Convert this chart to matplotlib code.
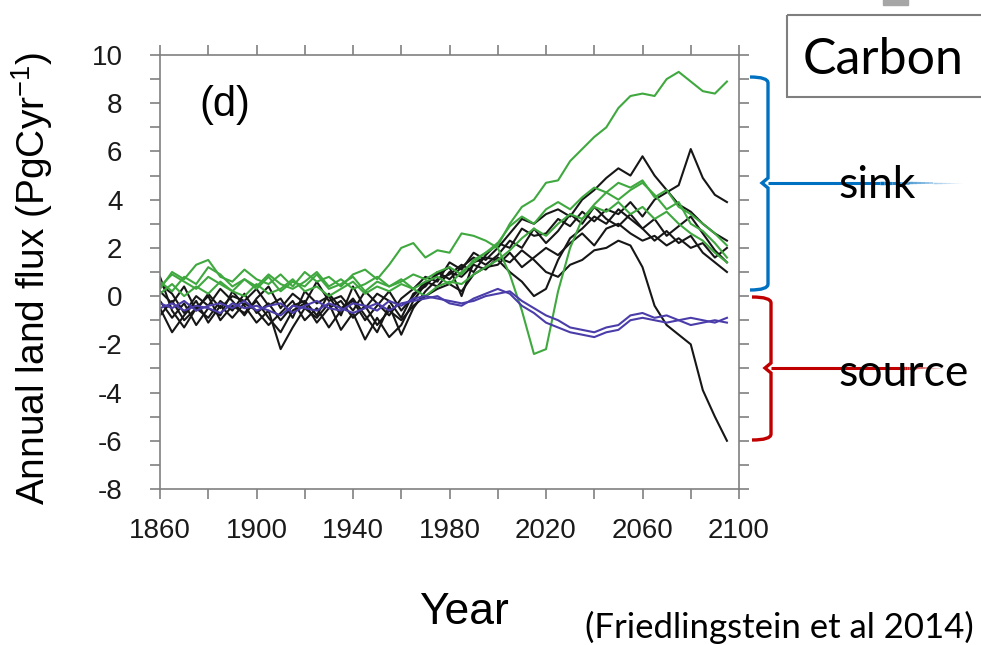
import matplotlib.pyplot as plt
import numpy as np
from matplotlib.ticker import MultipleLocator
from matplotlib.path import Path
from matplotlib.patches import PathPatch, Rectangle

# years, every 5 years 1860-2095
years = np.arange(1860, 2100, 5)

# black models (PgC/yr)
black_1 = [0.8, -0.6, -1.3, -0.5, -0.9, -0.2, -0.6, 0.1, -0.7, -0.3, -1.0, -0.4, -0.2, -0.8, 0.1, -0.5,
           -0.2, -1.0, -0.4, 0.2, -0.6, 0.0, 0.6, 0.4, 1.0, 0.8, 1.3, 1.1, 1.6, 1.4, 1.9, 1.5,
           1.0, 0.8, 1.3, 1.5, 1.9, 2.0, 2.3, 2.1, 1.2, -0.4, -1.2, -1.6, -2.0, -3.9, -5.0, -6.0]
black_2 = [-0.2, -0.9, -0.3, -1.2, -0.5, -0.8, 0.2, -0.4, -1.1, -0.6, -2.2, -1.3, -0.5, -0.9, -0.3, -1.4,
           -0.7, -1.8, -0.9, -1.7, -1.2, -0.2, 0.5, 0.9, 1.2, 0.0, 1.4, 1.6, 1.5, 1.0, 0.6, 0.0,
           0.3, 1.5, 2.4, 2.8, 3.3, 3.0, 3.6, 3.2, 2.8, 2.3, 2.7, 2.2, 2.5, 1.8, 1.4, 1.0]
black_3 = [0.5, 0.1, -0.7, 0.0, -0.4, 0.3, -0.2, -0.8, -0.1, 0.4, -0.5, 0.1, -0.3, 0.6, -0.2, 0.0,
           -0.6, 0.2, -0.3, -0.8, -0.1, 0.3, 0.8, 0.6, 1.4, 1.1, 1.8, 1.5, 2.0, 2.6, 3.2, 3.0,
           3.4, 3.6, 3.3, 4.0, 4.4, 4.9, 5.3, 5.0, 5.8, 5.0, 4.4, 3.8, 3.5, 3.0, 2.6, 2.3]
black_4 = [-0.5, -1.5, -0.8, -0.2, -1.1, -0.4, -0.9, -0.3, -0.6, -1.2, -0.7, -0.2, -1.0, -0.5, -1.3, -0.6,
           -0.1, -0.8, -1.5, -0.4, -1.6, -0.5, 0.2, 0.7, 0.9, 1.3, 1.0, 1.7, 2.2, 2.0, 2.8, 2.5,
           2.6, 3.2, 2.9, 3.5, 3.1, 3.6, 3.4, 3.9, 3.3, 4.0, 4.3, 4.6, 6.1, 4.9, 4.2, 3.9]
black_5 = [0.2, -0.3, 0.4, -0.6, 0.1, -0.5, 0.0, -0.2, 0.3, -0.4, -0.1, -0.9, 0.2, -0.3, 0.0, -0.8,
           0.4, -0.5, 0.1, -0.2, -0.9, 0.1, 0.4, 1.0, 0.7, 1.2, 1.6, 1.3, 1.7, 2.3, 2.0, 2.8,
           2.2, 2.7, 3.4, 3.0, 3.7, 3.2, 2.9, 3.4, 2.8, 3.2, 2.5, 2.9, 3.3, 2.6, 1.9, 1.4]
black_6 = [-0.8, -0.2, -1.0, -0.5, 0.0, -1.0, -0.4, -0.7, -0.2, -0.9, -1.5, -0.6, -0.3, -1.1, -0.5, -0.2,
           -0.9, -0.4, -1.2, -0.6, -1.0, -0.4, 0.0, 0.3, 0.5, 0.2, 0.9, 1.2, 1.3, 1.8, 1.2, 1.6,
           2.0, 1.7, 2.2, 2.6, 2.1, 2.8, 3.0, 2.6, 2.3, 2.5, 2.1, 2.4, 2.0, 2.2, 1.6, 2.0]

# green models
green_1 = [0.4, 0.9, 0.6, 0.3, 0.8, 0.5, 0.2, 0.7, 0.4, 0.9, 0.5, 0.3, 0.6, 1.0, 0.4, 0.7,
           0.3, 0.5, 0.8, 0.4, 0.6, 0.9, 0.7, 1.0, 1.2, 0.9, 1.5, 1.8, 2.1, 3.0, 3.7, 4.0,
           4.7, 4.8, 5.6, 6.1, 6.6, 7.0, 7.8, 8.3, 8.4, 8.3, 9.0, 9.3, 8.9, 8.5, 8.4, 8.9]
green_2 = [0.3, 1.0, 0.7, 1.3, 1.5, 0.8, 0.6, 1.1, 0.7, 0.5, 0.9, 0.4, 1.0, 0.6, 0.8, 0.4,
           0.9, 1.1, 0.7, 1.3, 2.0, 2.2, 1.6, 1.9, 1.8, 2.6, 2.5, 2.3, 2.0, 0.9, -0.6, -2.4,
           -2.2, 0.2, 2.0, 3.2, 3.8, 4.3, 4.0, 4.4, 4.7, 4.2, 3.6, 3.9, 3.0, 2.7, 2.2, 1.6]
green_3 = [0.6, 0.2, 0.8, 0.5, 1.2, 0.9, 0.4, 0.7, 0.3, 0.8, 0.2, 0.6, 0.4, 0.9, 0.3, 0.5,
           0.8, 0.2, 0.6, 0.4, 0.7, 0.3, 0.6, 0.8, 0.5, 1.0, 1.4, 1.8, 2.2, 2.9, 3.3, 3.0,
           3.6, 3.9, 3.6, 4.1, 4.5, 4.3, 4.7, 4.5, 4.8, 4.1, 4.4, 3.7, 3.4, 3.0, 2.6, 2.1]
green_4 = [0.1, 0.5, 0.0, 0.4, 0.1, 0.6, 0.2, 0.0, 0.5, 0.1, 0.3, 0.7, 0.2, 0.4, 0.0, 0.3,
           0.6, 0.1, 0.4, 0.2, 0.5, 0.3, 0.0, 0.4, 0.6, 0.5, 0.9, 1.2, 1.5, 1.9, 2.4, 2.8,
           2.5, 3.0, 3.4, 3.2, 3.7, 3.5, 3.9, 3.4, 3.7, 3.2, 3.5, 3.0, 2.6, 2.3, 1.8, 1.4]

# purple models
purple_1 = [-0.3, -0.5, -0.2, -0.6, -0.4, -0.3, -0.5, -0.2, -0.6, -0.4, -0.3, -0.7, -0.4, -0.2, -0.5, -0.6,
            -0.3, -0.4, -0.6, -0.2, -0.4, -0.1, 0.0, -0.1, -0.2, -0.3, -0.2, 0.0, 0.1, 0.2, -0.2, -0.5,
            -0.8, -1.0, -1.3, -1.4, -1.5, -1.3, -1.2, -0.8, -0.7, -0.9, -0.8, -1.0, -0.9, -1.0, -1.1, -0.9]
purple_2 = [-0.5, -0.3, -0.6, -0.4, -0.5, -0.7, -0.3, -0.5, -0.4, -0.6, -0.8, -0.4, -0.5, -0.6, -0.3, -0.5,
            -0.7, -0.5, -0.3, -0.6, -0.3, -0.2, -0.1, 0.0, -0.3, -0.4, -0.1, 0.1, 0.3, 0.1, -0.4, -0.7,
            -1.1, -1.3, -1.5, -1.6, -1.7, -1.5, -1.4, -1.0, -0.9, -1.0, -1.1, -1.0, -1.2, -1.1, -1.0, -1.1]

plt.rcParams['font.family'] = ['Liberation Sans', 'DejaVu Sans']
plt.rcParams['mathtext.default'] = 'regular'
plt.rcParams['axes.unicode_minus'] = False

W, H = 981, 645
fig = plt.figure(figsize=(W / 100, H / 100), dpi=100)
ax = fig.add_axes([160 / W, 1 - 489 / H, (739 - 160) / W, (489 - 55) / H])

for s in [black_1, black_2, black_3, black_4, black_5, black_6]:
    ax.plot(years, s, color='#161616', lw=1.5)
for s in [green_1, green_2, green_3, green_4]:
    ax.plot(years, s, color='#3fa83f', lw=1.5)
for s in [purple_1, purple_2]:
    ax.plot(years, s, color='#4a3daa', lw=1.5)

ax.set_xlim(1860, 2100)
ax.set_ylim(-8, 10)
ax.set_xticks(range(1860, 2101, 40))
ax.xaxis.set_minor_locator(MultipleLocator(20))
ax.set_yticks(range(-8, 11, 2))
ax.yaxis.set_minor_locator(MultipleLocator(1))
ax.tick_params(which='both', direction='out', top=True, right=True,
               color='#808080', length=7, width=1.2)
ax.tick_params(axis='x', labelsize=20, pad=14, labelcolor='#1a1a1a')
ax.tick_params(axis='y', labelsize=20, pad=20, labelcolor='#1a1a1a')
for sp in ax.spines.values():
    sp.set_color('#808080')
    sp.set_linewidth(1.2)

# overlay in pixel coordinates for labels and annotations
ov = fig.add_axes([0, 0, 1, 1], zorder=5)
ov.set_xlim(0, W)
ov.set_ylim(H, 0)
ov.axis('off')
ov.patch.set_alpha(0)

ov.text(225, 105, '(d)', fontsize=30, ha='center', va='center')
ov.text(32, 278, 'Annual land flux (PgCyr$^{-1}$)', rotation=90, fontsize=28,
        ha='center', va='center')
ov.text(464, 613, 'Year', fontsize=32, ha='center', va='center')

# "Carbon" box
ov.add_patch(Rectangle((787, 15), 230, 82, fill=False, edgecolor='#7f7f7f', lw=1.5, clip_on=False))
ov.add_patch(Rectangle((883, -2), 25, 7, color='#a6a6a6', clip_on=False))
ov.text(883, 60, 'Carbon', fontsize=36, family='Lato', ha='center', va='center')


def brace(x_tip, x_spine, y0, y1, ym, color):
    verts = [(x_tip, y0), (x_spine, y0), (x_spine, y0 + 6), (x_spine, ym - 5),
             (x_spine - 6, ym), (x_spine, ym + 5), (x_spine, y1 - 6), (x_spine, y1), (x_tip, y1)]
    codes = [Path.MOVETO, Path.CURVE3, Path.CURVE3, Path.LINETO,
             Path.LINETO, Path.LINETO, Path.LINETO, Path.CURVE3, Path.CURVE3]
    ov.add_patch(PathPatch(Path(verts, codes), fill=False, edgecolor=color, lw=2.4, clip_on=False))


def fade_line(x0, x1, xf, y, color):
    ov.plot([x0, xf], [y, y], color=color, lw=2.2, solid_capstyle='butt')
    n = 20
    xs = np.linspace(xf, x1, n + 1)
    for k in range(n):
        ov.plot(xs[k:k + 2], [y, y], color=color, lw=2.2 * (1 - k / n) + 0.3,
                alpha=1 - k / n, solid_capstyle='butt')


blue = '#0070c0'
red = '#c00000'
fade_line(768, 962, 880, 183, blue)
brace(750, 768, 77, 290, 183, blue)
fade_line(771, 945, 900, 368, red)
brace(752, 771, 297, 440, 368, red)

ov.text(838, 186, 'sink', fontsize=32, family='Lato', ha='left', va='center')
ov.text(838, 373, 'source', fontsize=32, family='Lato', ha='left', va='center')
ov.text(779, 627, '(Friedlingstein et al 2014)', fontsize=25, family='Lato',
        ha='center', va='center')

fig.savefig('out.png', dpi=100)
